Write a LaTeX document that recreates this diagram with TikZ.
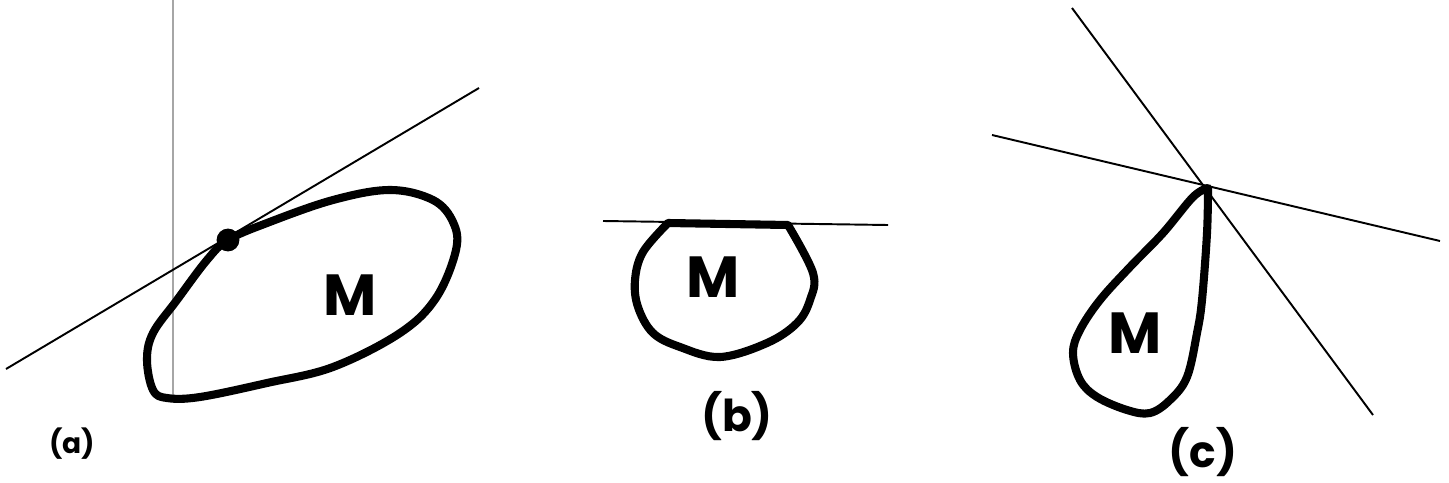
\documentclass[tikz,border=0pt]{standalone}
\usepackage{fontspec}
\setmainfont{Poppins}
\begin{document}
\begin{tikzpicture}[x=0.02cm,y=-0.02cm,
  thinline/.style={line width=1.1pt,black},
  faintline/.style={line width=0.6pt,black!35},
  boundary/.style={line width=4.6pt,black,line join=round,line cap=round},
  bigM/.style={font=\fontsize{33}{33}\selectfont\bfseries,inner sep=0pt},
  smalllab/.style={font=\fontsize{16}{16}\selectfont\bfseries,inner sep=0pt},
  biglab/.style={font=\fontsize{25}{25}\selectfont\bfseries,inner sep=0pt}]
\useasboundingbox[fill=white] (0,0) rectangle (1449,483);

% ---------- (a) ----------
\coordinate (va1) at (173,0);
\coordinate (va2) at (173,395);
\draw[faintline] (va1) -- (va2);
\coordinate (ta1) at (6,369);
\coordinate (ta2) at (479,88);
\draw[thinline] (ta1) -- (ta2);
\draw[boundary] plot[smooth cycle,tension=0.6] coordinates{
 (228,240) (267,223) (333,200) (390,190) (433,200) (453,222) (456,250)
 (436,298) (400,333) (333,367) (267,383) (200,397) (167,398) (153,390)
 (147,360) (153,333) (177,300) (207,260)};
\node[circle,fill=black,inner sep=0pt,minimum size=13pt] (pa) at (228,240) {};
\node[bigM] (Ma) at (350,295) {M};
\node[smalllab] (la) at (72,444) {(a)};

% ---------- (b) ----------
\coordinate (hb1) at (603,221);
\coordinate (hb2) at (888,225);
\draw[thinline] (hb1) -- (hb2);
\draw[boundary] (668,223) -- (788,225) plot[smooth,tension=0.6] coordinates{
 (788,225) (813,273) (810,300) (797,323) (767,343) (720,357) (680,347)
 (653,333) (638,307) (635,280) (643,252) (668,223)} -- cycle;
\node[bigM] (Mb) at (713,277) {M};
\node[biglab] (lb) at (737,416) {(b)};

% ---------- (c) ----------
\coordinate (c1a) at (1072,8);
\coordinate (c1b) at (1373,415);
\coordinate (c2a) at (992,135);
\coordinate (c2b) at (1440,241);
\draw[thinline] (c1a) -- (c1b);
\draw[thinline] (c2a) -- (c2b);
\draw[boundary] plot[smooth,tension=0.6] coordinates{
 (1208,188) (1193,197) (1163,233) (1130,267) (1100,300) (1080,330)
 (1073,353) (1080,380) (1097,397) (1127,410) (1150,413) (1170,400)
 (1187,377) (1197,333) (1202,300) (1207,233) (1208,188)} -- cycle;
\node[bigM] (Mc) at (1135,333) {M};
\node[biglab] (lc) at (1203,452) {(c)};
\end{tikzpicture}
\end{document}
